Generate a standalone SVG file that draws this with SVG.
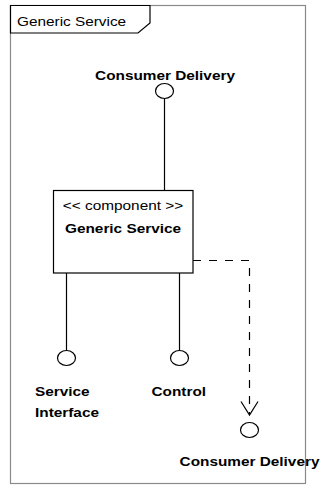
<svg xmlns="http://www.w3.org/2000/svg" width="320" height="485" viewBox="0 0 320 485">
  <style>
    .frame { fill: none; stroke: #8a8a8a; stroke-width: 1.2; }
    .tab { fill: #ffffff; stroke: #000000; stroke-width: 1.2; }
    .box { fill: #ffffff; stroke: #000000; stroke-width: 1.2; }
    .line { fill: none; stroke: #000000; stroke-width: 1.2; }
    .dash { fill: none; stroke: #000000; stroke-width: 1.2; stroke-dasharray: 8 8; }
    .port { fill: #ffffff; stroke: #000000; stroke-width: 1.2; }
    text { font-family: "Liberation Sans", Arial, sans-serif; font-size: 12px; fill: #000000; }
    .b { font-weight: bold; }
    .c { text-anchor: middle; }
  </style>

  <!-- package frame with name tab -->
  <g id="frame">
    <rect class="frame" x="10.5" y="5.5" width="295" height="478"/>
    <path class="tab" d="M10.5,5.5 H150 V23 L138,33 H10.5 Z"/>
    <text transform="translate(17 25.5) scale(1.28 1)">Generic Service</text>
  </g>

  <!-- connectors -->
  <g id="connectors">
    <line class="line" x1="164.5" y1="98.5" x2="164.5" y2="190.5"/>
    <line class="line" x1="66.5" y1="273" x2="66.5" y2="350.5"/>
    <line class="line" x1="179.5" y1="273" x2="179.5" y2="350.5"/>
    <path class="dash" d="M193,260.5 H249.5 V414"/>
    <path class="line" d="M241,401.5 L249.5,415 L258,401.5"/>
  </g>

  <!-- component -->
  <g id="generic-service">
    <rect class="box" x="53.5" y="190.5" width="139.5" height="82.5"/>
    <text class="c" transform="translate(123 209.5) scale(1.28 1)">&lt;&lt; component &gt;&gt;</text>
    <text class="b c" transform="translate(123 233) scale(1.28 1)">Generic Service</text>
  </g>

  <!-- provided interfaces -->
  <g id="consumer-delivery-top">
    <ellipse class="port" cx="164.5" cy="91" rx="9" ry="7.5"/>
    <text class="b c" transform="translate(165 80) scale(1.28 1)">Consumer Delivery</text>
  </g>

  <g id="service-interface">
    <ellipse class="port" cx="66.5" cy="358" rx="9" ry="7.5"/>
    <text class="b" transform="translate(35 395.5) scale(1.28 1)">Service</text>
    <text class="b" transform="translate(35 416.5) scale(1.28 1)">Interface</text>
  </g>

  <g id="control">
    <ellipse class="port" cx="179.5" cy="358" rx="9" ry="7.5"/>
    <text class="b" transform="translate(151.5 395.5) scale(1.28 1)">Control</text>
  </g>

  <g id="consumer-delivery-bottom">
    <ellipse class="port" cx="249.5" cy="430" rx="9" ry="7.5"/>
    <text class="b c" transform="translate(249.5 466) scale(1.28 1)">Consumer Delivery</text>
  </g>
</svg>
